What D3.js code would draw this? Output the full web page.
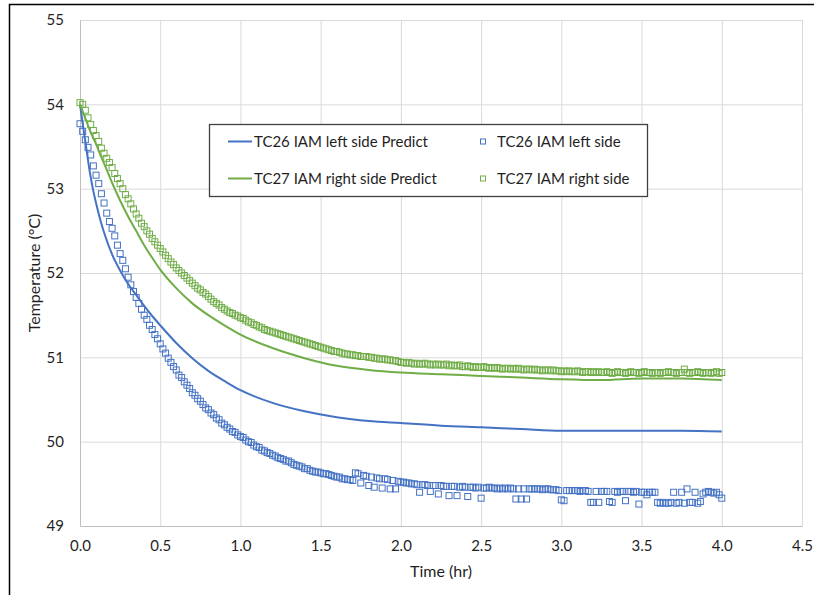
<!DOCTYPE html>
<html>
<head>
<meta charset="utf-8">
<script src="https://cdn.jsdelivr.net/npm/d3@7"></script>
<style>
  html, body { margin: 0; padding: 0; background: #fff; }
  svg { display: block; }
  text { font-family: "Lato", "Open Sans", sans-serif; fill: #1f1f1f; }
</style>
</head>
<body>
<svg id="chart" width="814" height="595"></svg>
<script>
// ---- Data -------------------------------------------------------------
// Model prediction curves (time in hours)
const predictTime = [0, 0.02, 0.04, 0.06, 0.08, 0.1, 0.125, 0.15, 0.2, 0.25, 0.3, 0.35, 0.4, 0.45, 0.5,
  0.6, 0.7, 0.8, 0.9, 1.0, 1.2, 1.4, 1.6, 1.8, 2.0, 2.25, 2.5, 2.75, 3.0, 3.25, 3.5, 3.75, 4.0];
const tc26Predict = [54.00, 53.73, 53.47, 53.21, 53.00, 52.83, 52.64, 52.48, 52.22, 52.03, 51.87, 51.74, 51.61, 51.49, 51.38,
  51.17, 50.99, 50.84, 50.72, 50.61, 50.46, 50.36, 50.29, 50.245, 50.22, 50.19, 50.17, 50.15, 50.13, 50.13, 50.13, 50.13, 50.12];
const tc27Predict = [54.00, 53.90, 53.80, 53.70, 53.61, 53.53, 53.41, 53.30, 53.07, 52.86, 52.67, 52.50, 52.33, 52.18, 52.04,
  51.82, 51.64, 51.50, 51.38, 51.27, 51.11, 50.99, 50.90, 50.85, 50.82, 50.80, 50.78, 50.76, 50.74, 50.73, 50.75, 50.75, 50.73];

// Measured thermocouple readings, logged once a minute from t = 0 to 4 h
const sampleStepHours = 1 / 60;
const tc26Measured = [
  53.77, 53.68, 53.58, 53.49, 53.40, 53.27, 53.16, 53.06, 52.94, 52.83,
  52.71, 52.61, 52.53, 52.44, 52.33, 52.23, 52.15, 52.05, 51.95, 51.86,
  51.78, 51.71, 51.64, 51.57, 51.50, 51.45, 51.38, 51.33, 51.27, 51.22,
  51.16, 51.10, 51.05, 50.99, 50.94, 50.89, 50.85, 50.79, 50.76, 50.71,
  50.67, 50.63, 50.58, 50.55, 50.51, 50.48, 50.44, 50.40, 50.38, 50.34,
  50.32, 50.28, 50.26, 50.22, 50.20, 50.17, 50.15, 50.12, 50.11, 50.08,
  50.06, 50.05, 50.02, 50.00, 49.99, 49.96, 49.94, 49.93, 49.90, 49.89,
  49.87, 49.86, 49.84, 49.83, 49.81, 49.80, 49.79, 49.77, 49.77, 49.75,
  49.73, 49.72, 49.71, 49.70, 49.68, 49.68, 49.66, 49.65, 49.64, 49.64,
  49.63, 49.62, 49.62, 49.61, 49.60, 49.59, 49.58, 49.58, 49.56, 49.56,
  49.55, 49.55, 49.54, 49.63, 49.62, 49.51, 49.60, 49.59, 49.48, 49.58,
  49.46, 49.57, 49.56, 49.45, 49.56, 49.55, 49.44, 49.54, 49.44, 49.53,
  49.52, 49.52, 49.51, 49.51, 49.50, 49.50, 49.49, 49.40, 49.49, 49.49,
  49.48, 49.41, 49.48, 49.48, 49.38, 49.48, 49.47, 49.47, 49.36, 49.47,
  49.47, 49.36, 49.46, 49.47, 49.46, 49.35, 49.46, 49.46, 49.45, 49.46,
  49.33, 49.45, 49.45, 49.46, 49.45, 49.45, 49.44, 49.45, 49.44, 49.45,
  49.44, 49.45, 49.44, 49.32, 49.44, 49.32, 49.44, 49.32, 49.44, 49.44,
  49.44, 49.44, 49.44, 49.43, 49.44, 49.44, 49.43, 49.43, 49.43, 49.42,
  49.31, 49.30, 49.42, 49.42, 49.42, 49.42, 49.42, 49.41, 49.42, 49.42,
  49.41, 49.28, 49.28, 49.41, 49.28, 49.41, 49.41, 49.41, 49.29, 49.28,
  49.41, 49.40, 49.41, 49.41, 49.30, 49.41, 49.41, 49.40, 49.41, 49.26,
  49.40, 49.40, 49.37, 49.40, 49.40, 49.40, 49.28, 49.27, 49.28, 49.27,
  49.27, 49.28, 49.40, 49.27, 49.28, 49.40, 49.27, 49.44, 49.28, 49.28,
  49.40, 49.27, 49.29, 49.38, 49.40, 49.41, 49.40, 49.39, 49.40, 49.37,
  49.33
];
const tc27Measured = [
  54.02, 54.00, 53.93, 53.84, 53.76, 53.69, 53.63, 53.56, 53.48, 53.42,
  53.36, 53.31, 53.25, 53.18, 53.12, 53.06, 53.00, 52.93, 52.88, 52.82,
  52.76, 52.70, 52.65, 52.59, 52.55, 52.50, 52.46, 52.41, 52.37, 52.33,
  52.29, 52.25, 52.21, 52.17, 52.13, 52.10, 52.06, 52.03, 52.00, 51.97,
  51.94, 51.91, 51.88, 51.85, 51.82, 51.80, 51.77, 51.75, 51.72, 51.69,
  51.66, 51.64, 51.62, 51.59, 51.57, 51.55, 51.53, 51.52, 51.50, 51.49,
  51.47, 51.46, 51.44, 51.42, 51.41, 51.39, 51.38, 51.36, 51.35, 51.33,
  51.32, 51.31, 51.30, 51.29, 51.28, 51.27, 51.26, 51.25, 51.24, 51.23,
  51.22, 51.21, 51.20, 51.19, 51.18, 51.17, 51.16, 51.15, 51.14, 51.13,
  51.12, 51.11, 51.10, 51.09, 51.08, 51.07, 51.07, 51.06, 51.05, 51.04,
  51.04, 51.03, 51.03, 51.02, 51.02, 51.01, 51.01, 51.01, 51.00, 51.00,
  50.99, 50.99, 50.98, 50.98, 50.98, 50.97, 50.97, 50.96, 50.96, 50.95,
  50.94, 50.94, 50.93, 50.94, 50.93, 50.92, 50.93, 50.92, 50.92, 50.93,
  50.92, 50.91, 50.92, 50.91, 50.92, 50.91, 50.91, 50.92, 50.90, 50.91,
  50.90, 50.90, 50.91, 50.89, 50.89, 50.90, 50.89, 50.88, 50.89, 50.88,
  50.88, 50.89, 50.88, 50.87, 50.88, 50.87, 50.88, 50.87, 50.86, 50.87,
  50.87, 50.86, 50.87, 50.86, 50.87, 50.86, 50.85, 50.86, 50.86, 50.85,
  50.86, 50.85, 50.85, 50.84, 50.85, 50.85, 50.84, 50.85, 50.84, 50.84,
  50.83, 50.84, 50.83, 50.84, 50.83, 50.83, 50.84, 50.83, 50.82, 50.83,
  50.83, 50.82, 50.83, 50.82, 50.83, 50.82, 50.82, 50.83, 50.82, 50.81,
  50.82, 50.83, 50.82, 50.82, 50.81, 50.82, 50.83, 50.82, 50.82, 50.81,
  50.82, 50.83, 50.82, 50.82, 50.81, 50.82, 50.82, 50.81, 50.82, 50.82,
  50.83, 50.82, 50.82, 50.81, 50.82, 50.82, 50.86, 50.82, 50.81, 50.82,
  50.82, 50.83, 50.82, 50.81, 50.82, 50.82, 50.81, 50.82, 50.83, 50.81,
  50.82
];

// Axis ticks
const xTicks = [0, 0.5, 1.0, 1.5, 2.0, 2.5, 3.0, 3.5, 4.0, 4.5];
const yTicks = [49, 50, 51, 52, 53, 54, 55];

const seriesNames = ["TC26 IAM left side Predict", "TC26 IAM left side",
                     "TC27 IAM right side Predict", "TC27 IAM right side"];
const blue = "#4472C4";
const green = "#70AD47";

// ---- Layout -------------------------------------------------------------
const svg = d3.select("#chart");
const plot = { left: 80, right: 802, top: 20, bottom: 526 };

const x = d3.scaleLinear().domain([0, 4.5]).range([plot.left, plot.right]);
const y = d3.scaleLinear().domain([49, 55]).range([plot.bottom, plot.top]);

// Outer frame (top and left edges)
svg.append("path")
  .attr("d", "M9.5,595 L9.5,4.5 L814,4.5")
  .attr("fill", "none").attr("stroke", "#000").attr("stroke-width", 1.5);

// Gridlines
const grid = svg.append("g");
grid.append("g")
  .attr("transform", `translate(0,${plot.bottom})`)
  .call(d3.axisBottom(x).tickValues(xTicks.slice(1)).tickSize(-(plot.bottom - plot.top)).tickFormat(""))
  .call(g => g.select(".domain").remove())
  .call(g => g.selectAll("line").attr("stroke", "#D9D9D9"));
grid.append("g")
  .attr("transform", `translate(${plot.left},0)`)
  .call(d3.axisLeft(y).tickValues(yTicks.slice(1)).tickSize(-(plot.right - plot.left)).tickFormat(""))
  .call(g => g.select(".domain").remove())
  .call(g => g.selectAll("line").attr("stroke", "#D9D9D9"));

// Axis lines and labels
const xAxis = svg.append("g")
  .attr("transform", `translate(0,${plot.bottom})`)
  .call(d3.axisBottom(x).tickValues(xTicks).tickSize(0).tickPadding(14).tickFormat(d3.format(".1f")));
xAxis.select(".domain").attr("stroke", "#BFBFBF");
xAxis.selectAll("text").attr("font-size", 15).attr("fill", "#1f1f1f")
  .attr("font-family", "Lato, sans-serif");

const yAxis = svg.append("g")
  .attr("transform", `translate(${plot.left},0)`)
  .call(d3.axisLeft(y).tickValues(yTicks).tickSize(0).tickPadding(16).tickFormat(d3.format("d")));
yAxis.select(".domain").attr("stroke", "#BFBFBF");
yAxis.selectAll("text").attr("font-size", 15).attr("fill", "#1f1f1f")
  .attr("font-family", "Lato, sans-serif");

svg.append("text")
  .attr("x", (plot.left + plot.right) / 2).attr("y", 577)
  .attr("text-anchor", "middle").attr("font-size", 16)
  .text("Time (hr)");
svg.append("text")
  .attr("transform", `translate(40,${(plot.top + plot.bottom) / 2}) rotate(-90)`)
  .attr("text-anchor", "middle").attr("font-size", 16)
  .text("Temperature (°C)");

// ---- Series -------------------------------------------------------------
const line = d3.line()
  .x(d => x(d[0])).y(d => y(d[1]))
  .curve(d3.curveMonotoneX);

function drawPredict(values, color) {
  svg.append("path")
    .datum(predictTime.map((t, i) => [t, values[i]]))
    .attr("d", line)
    .attr("fill", "none").attr("stroke", color).attr("stroke-width", 2);
}

const markerSize = 6;
function drawMeasured(values, color) {
  svg.append("g").selectAll("rect")
    .data(values.map((v, i) => [i * sampleStepHours, v]))
    .join("rect")
    .attr("x", d => x(d[0]) - markerSize / 2)
    .attr("y", d => y(d[1]) - markerSize / 2)
    .attr("width", markerSize).attr("height", markerSize)
    .attr("fill", "none").attr("stroke", color).attr("stroke-width", 1);
}

drawPredict(tc26Predict, blue);
drawPredict(tc27Predict, green);
drawMeasured(tc26Measured, blue);
drawMeasured(tc27Measured, green);

// ---- Legend -------------------------------------------------------------
const legend = svg.append("g");
legend.append("rect")
  .attr("x", 209.5).attr("y", 124.5).attr("width", 438).attr("height", 72)
  .attr("fill", "#fff").attr("stroke", "#404040").attr("stroke-width", 1.3);

const legendItems = [
  { name: seriesNames[0], color: blue, kind: "line", col: 0, row: 0 },
  { name: seriesNames[1], color: blue, kind: "marker", col: 1, row: 0 },
  { name: seriesNames[2], color: green, kind: "line", col: 0, row: 1 },
  { name: seriesNames[3], color: green, kind: "marker", col: 1, row: 1 }
];
const colX = [228, 483];
const rowY = [141.5, 178.5];
legendItems.forEach(it => {
  const cx = colX[it.col], cy = rowY[it.row];
  if (it.kind === "line") {
    legend.append("line")
      .attr("x1", cx).attr("x2", cx + 24).attr("y1", cy).attr("y2", cy)
      .attr("stroke", it.color).attr("stroke-width", 2);
    legend.append("text").attr("x", cx + 26).attr("y", cy).attr("dy", "0.36em")
      .attr("font-size", 15).text(it.name);
  } else {
    legend.append("rect")
      .attr("x", cx - 2.5).attr("y", cy - 2.5).attr("width", 5).attr("height", 5)
      .attr("fill", "none").attr("stroke", it.color).attr("stroke-width", 1);
    legend.append("text").attr("x", cx + 14).attr("y", cy).attr("dy", "0.36em")
      .attr("font-size", 15).text(it.name);
  }
});
</script>
</body>
</html>
